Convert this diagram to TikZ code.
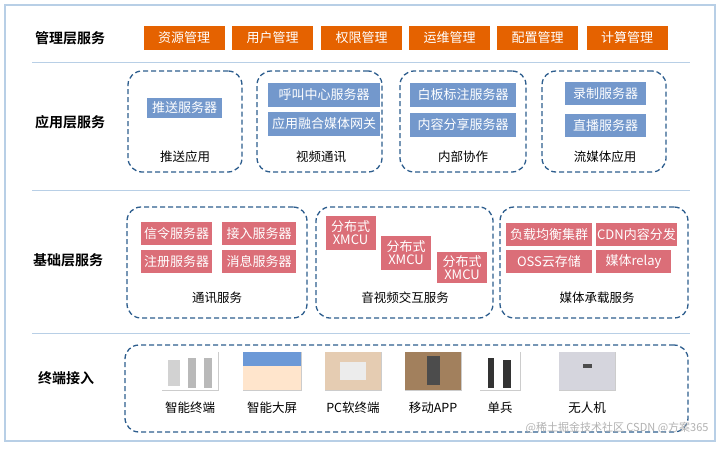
\documentclass[tikz,border=0pt]{standalone}
\usepackage{fontspec}
\setmainfont{Noto Sans CJK SC}[BoldFont={Noto Sans CJK SC Bold}]
\begin{document}
\begin{tikzpicture}[x=1pt,y=-1pt,
  lay/.style={font=\fontsize{14}{16}\selectfont\bfseries},
  orb/.style={fill=orange!85!red!90!black,text=white,minimum height=24pt,inner sep=0pt,font=\fontsize{13}{15}\selectfont},
  blb/.style={fill=blueb,text=white,inner sep=0pt,font=\fontsize{13}{15}\selectfont},
  pkb/.style={fill=pinkb,text=white,inner sep=0pt,font=\fontsize{13}{15}\selectfont,align=center},
  dbox/.style={draw=dashc,line width=1.3pt,dash pattern=on 5pt off 3pt,rounded corners=14pt},
  captxt/.style={font=\fontsize{12.5}{15}\selectfont},
  sep/.style={draw=sepc,line width=1pt},
  icon/.style={fill=gray!20,draw=gray!40}]
\definecolor{blueb}{HTML}{7398CC}
\definecolor{pinkb}{HTML}{DB6E78}
\definecolor{dashc}{HTML}{2E5E8E}
\definecolor{sepc}{HTML}{B8CFE6}
\useasboundingbox (0,0) rectangle (723,450);
\fill[white] (0,0) rectangle (723,450);
\draw[sepc,line width=1.5pt] (5,5) rectangle (715,441);
\coordinate (s1a) at (32,62); \coordinate (s1b) at (690,62);
\coordinate (s2a) at (32,190); \coordinate (s2b) at (690,190);
\coordinate (s3a) at (32,333); \coordinate (s3b) at (690,333);
\draw[sep] (s1a)--(s1b); \draw[sep] (s2a)--(s2b); \draw[sep] (s3a)--(s3b);
\node[lay] (l1) at (70,38) {管理层服务};
\node[lay] (l2) at (70,122) {应用层服务};
\node[lay] (l3) at (68,260) {基础层服务};
\node[lay] (l4) at (66,378) {终端接入};
% orange
\foreach \n/\x/\t in {o1/184/资源管理,o2/272.5/用户管理,o3/361.5/权限管理,o4/449.5/运维管理,o5/537.5/配置管理,o6/627/计算管理}
  \node[orb,minimum width=81pt] (\n) at (\x,38) {\t};
% app boxes
\node[dbox,minimum width=114pt,minimum height=101pt] (a1) at (185,121.5) {};
\node[dbox,minimum width=125pt,minimum height=101pt] (a2) at (319.5,121.5) {};
\node[dbox,minimum width=126pt,minimum height=101pt] (a3) at (463,121.5) {};
\node[dbox,minimum width=124pt,minimum height=101pt] (a4) at (604,121.5) {};
\node[blb,minimum width=75pt,minimum height=20pt] (b1) at (184.5,107.5) {推送服务器};
\node[blb,minimum width=112pt,minimum height=24pt] (b2) at (324,94.5) {呼叫中心服务器};
\node[blb,minimum width=112pt,minimum height=24pt] (b3) at (324,124) {应用融合媒体网关};
\node[blb,minimum width=106pt,minimum height=24pt] (b4) at (463,94.5) {白板标注服务器};
\node[blb,minimum width=106pt,minimum height=24pt] (b5) at (463,124.5) {内容分享服务器};
\node[blb,minimum width=81pt,minimum height=23pt] (b6) at (605.5,93.5) {录制服务器};
\node[blb,minimum width=81pt,minimum height=23pt] (b7) at (605.5,125.5) {直播服务器};
\node[captxt] (c1) at (185,157) {推送应用};
\node[captxt] (c2) at (321,157) {视频通讯};
\node[captxt] (c3) at (463,157) {内部协作};
\node[captxt] (c4) at (605,157) {流媒体应用};
% base boxes
\node[dbox,minimum width=180pt,minimum height=111pt] (d1) at (217,262.5) {};
\node[dbox,minimum width=177pt,minimum height=111pt] (d2) at (404.5,262.5) {};
\node[dbox,minimum width=188pt,minimum height=111pt] (d3) at (594,262.5) {};
\node[pkb,minimum width=71pt,minimum height=23pt] (p1) at (176.5,233.5) {信令服务器};
\node[pkb,minimum width=74pt,minimum height=23pt] (p2) at (259,233.5) {接入服务器};
\node[pkb,minimum width=71pt,minimum height=23pt] (p3) at (176.5,261.5) {注册服务器};
\node[pkb,minimum width=74pt,minimum height=23pt] (p4) at (259,261.5) {消息服务器};
\node[pkb,minimum width=50pt,minimum height=34pt] (x1) at (350.5,233) {分布式\\[-2pt]XMCU};
\node[pkb,minimum width=50pt,minimum height=34pt] (x2) at (406,253) {分布式\\[-2pt]XMCU};
\node[pkb,minimum width=50pt,minimum height=31pt] (x3) at (462,267.5) {分布式\\[-2pt]XMCU};
\node[pkb,minimum width=86pt,minimum height=23pt] (m1) at (549,234.5) {负载均衡集群};
\node[pkb,minimum width=81pt,minimum height=23pt] (m2) at (636.5,234.5) {CDN内容分发};
\node[pkb,minimum width=86pt,minimum height=23pt] (m3) at (549,261.5) {OSS云存储};
\node[pkb,minimum width=75pt,minimum height=23pt] (m4) at (633.5,261.5) {媒体relay};
\node[captxt] (e1) at (217,298) {通讯服务};
\node[captxt] (e2) at (405,298) {音视频交互服务};
\node[captxt] (e3) at (597,298) {媒体承载服务};
% terminal
\node[dbox,minimum width=563pt,minimum height=87pt] (t0) at (406.5,388.5) {};
\foreach \n/\x/\w/\t in {t1/190/56/智能终端,t2/272/58/智能大屏,t3/353/56/PC软终端,t4/433/56/移动APP,t5/500/40/单兵,t6/587/56/无人机}{
  \node[icon,minimum width=\w pt,minimum height=38pt,inner sep=0pt] (\n i) at (\x,371) {};
  \node[captxt] (\n) at (\x,408) {\t};
}
\fill[white] (t1i.south west) rectangle (t1i.north east);
\fill[gray!35] (168,360) rectangle (180,386); \fill[gray!55] (188,358) rectangle (196,388); \fill[gray!55] (204,358) rectangle (212,388);
\fill[cyan!50!blue!60] (t2i.north west) rectangle ([yshift=-14pt]t2i.north east);
\fill[orange!20] ([yshift=-14pt]t2i.north west) rectangle (t2i.south east);
\fill[brown!40] (t3i.north west) rectangle (t3i.south east);
\fill[gray!15] (340,362) rectangle (366,380);
\fill[brown!55!gray] (t4i.north west) rectangle (t4i.south east);
\fill[black!70] (427,356) rectangle (440,385);
\fill[white] (t5i.north west) rectangle (t5i.south east);
\fill[black!80] (488,358) rectangle (494,388); \fill[black!80] (503,360) rectangle (511,388);
\fill[blue!10!gray!30] (t6i.north west) rectangle (t6i.south east);
\fill[black!70] (583,364) rectangle (592,368);
\node[text=gray!60,font=\fontsize{11}{13}\selectfont,anchor=east] (wm) at (712,428) {@稀土掘金技术社区 CSDN @方案365};
\end{tikzpicture}
\end{document}
